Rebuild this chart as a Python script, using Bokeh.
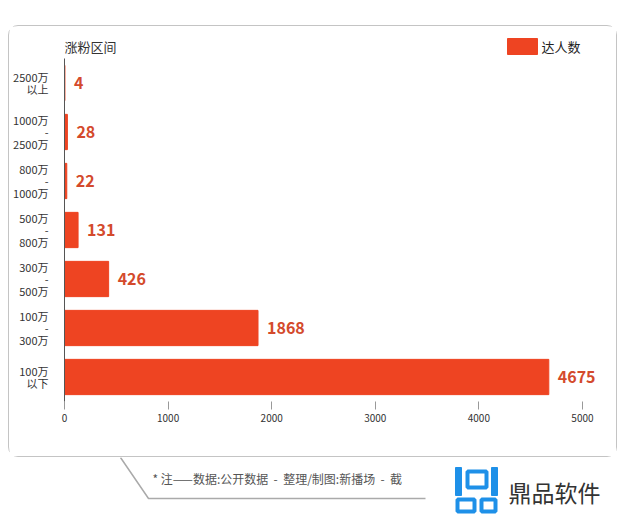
from bokeh.plotting import figure
from bokeh.models import FactorRange, Range1d, FixedTicker, ColumnDataSource
from bokeh.layouts import column
from bokeh.core.properties import value
from bokeh.embed import file_html
from bokeh.resources import INLINE

FONT = "Noto Sans CJK SC"

# categories (used directly as the multi-line tick labels), top to bottom
categories = ["2500万\n以上", "1000万\n-\n2500万", "800万\n-\n1000万", "500万\n-\n800万",
              "300万\n-\n500万", "100万\n-\n300万", "100万\n以下"]
values = [4, 28, 22, 131, 426, 1868, 4675]
x_ticks = [0, 1000, 2000, 3000, 4000, 5000]
series_name = "达人数"
axis_title = "涨粉区间"
NB = "\u00a0"
footer = ("* 注——数据:公开数据" + NB * 2 + "-" + NB * 2 + "整理/制图:新播场"
          + NB * 2 + "-" + NB * 2 + "截")

src = ColumnDataSource(dict(cat=categories, val=values, lab=[str(v) for v in values]))

L, R, W = 55, 10, 607  # shared borders so that the frames of all parts line up

def blank(height, xr, yr):
    f = figure(width=W, height=height, x_range=xr, y_range=yr, x_axis_type=None,
               y_axis_type=None, output_backend="svg", toolbar_location=None,
               min_border_left=L, min_border_right=R, min_border_top=0, min_border_bottom=0)
    f.outline_line_color = None
    f.xgrid.visible = False
    f.ygrid.visible = False
    return f

# header strip inside the box (page coordinates)
h = blank(32, Range1d(63, 605), Range1d(57, 25))
h.text(x=[63], y=[45], text=[axis_title], text_font=value(FONT), text_font_size="13px",
       text_color="#333333", text_baseline="middle")
h.quad(left=[506], right=[536], top=[37], bottom=[53], color="#ee4422")
h.text(x=[540], y=[45], text=[series_name], text_font=value(FONT), text_font_size="13px",
       text_color="#222222", text_baseline="middle")

# main chart
p = figure(width=W, height=398, y_range=FactorRange(factors=categories[::-1]),
           x_range=Range1d(0, 5232), output_backend="svg", toolbar_location=None,
           min_border_left=L, min_border_right=R, min_border_top=0, min_border_bottom=55)
p.outline_line_color = None
p.xgrid.visible = False
p.ygrid.visible = False

p.hbar(y="cat", right="val", left=0, height=0.72, color="#ee4422", source=src)
p.text(x="val", y="cat", text="lab", x_offset=9, text_baseline="middle", text_align="left",
       text_font_style="bold", text_font_size="16px", text_color="#d44a2c",
       text_font=value(FONT), source=src)

p.xaxis.ticker = FixedTicker(ticks=x_ticks)
p.xaxis.axis_line_color = None
p.xaxis.major_tick_in = 0
p.xaxis.major_tick_out = 8
p.xaxis.major_tick_line_color = "#999999"
p.xaxis.minor_tick_line_color = None
p.xaxis.major_label_text_font_size = "10px"
p.xaxis.major_label_text_color = "#333333"
p.xaxis.major_label_text_font = FONT
p.xaxis.major_label_standoff = 4

p.yaxis.major_tick_line_color = None
p.yaxis.minor_tick_line_color = None
p.yaxis.axis_line_color = "#555555"
p.yaxis.major_label_text_font_size = "11px"
p.yaxis.major_label_text_color = "#333333"
p.yaxis.major_label_text_font = FONT
p.yaxis.major_label_text_line_height = 0.78
p.yaxis.major_label_standoff = 10

box = column(h, p, spacing=0)
box.styles = {"border": "1px solid #c4c4c4", "border-radius": "10px"}

# footer below the box (page coordinates)
BLUE = "#1e90e8"
f = blank(60, Range1d(63, 605), Range1d(517, 457))
f.line(x=[120, 148, 425], y=[457, 498, 498], line_color="#aaaaaa", line_width=1.5)
f.text(x=[152], y=[478], text=[footer], text_font=value(FONT), text_font_size="12px",
       text_color="#555555", text_baseline="middle")
f.quad(left=[455, 491], right=[461, 497], top=[467, 467], bottom=[495, 495], color=BLUE)
f.quad(left=[467, 457, 481], right=[486, 474, 495], top=[471, 499, 499],
       bottom=[487, 511, 511], fill_color=None, line_color=BLUE, line_width=4)
f.text(x=[508], y=[491], text=["鼎品软件"], text_font=value(FONT), text_font_size="23px",
       text_color="#333333", text_baseline="middle")

layout = column(box, f, spacing=0)
layout.styles = {"margin-left": "8px", "margin-top": "25px"}
open("out.html", "w").write(file_html(layout, INLINE))
